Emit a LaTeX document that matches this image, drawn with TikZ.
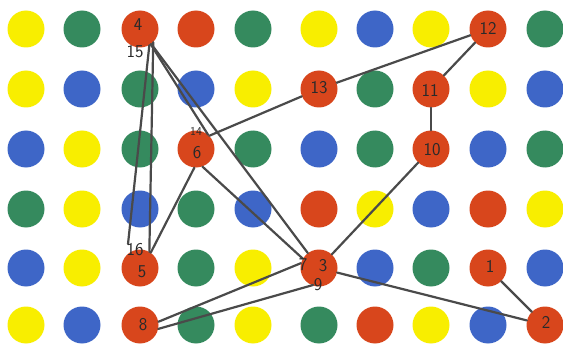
\documentclass[tikz,border=0pt]{standalone}
\usepackage{fontspec}
\begin{document}
\begin{tikzpicture}[x=1pt,y=-1pt,
  dot/.style={circle,minimum size=37pt,inner sep=0pt,draw=none},
  num/.style={font=\fontsize{18}{18}\selectfont\sffamily,text=numcol,inner sep=0.5pt},
  smallnum/.style={font=\fontsize{12}{12}\selectfont\sffamily,text=numcol,inner sep=0.5pt},
  link/.style={draw=linecol,line width=2.2pt,line cap=round}]
\definecolor{cR}{HTML}{D8461C}
\definecolor{cG}{HTML}{358A5E}
\definecolor{cB}{HTML}{3E66C7}
\definecolor{cY}{HTML}{F8EE00}
\definecolor{linecol}{HTML}{4A4A4A}
\definecolor{numcol}{HTML}{2A2A2A}
\fill[white] (0,0) rectangle (563,345);
\useasboundingbox (0,0) rectangle (563,345);
\foreach \r/\y/\cols in {1/29/{Y,G,R,R,G,Y,B,Y,R,G},
                         2/89/{Y,B,G,B,Y,R,G,R,Y,B},
                         3/149/{B,Y,G,R,G,B,G,R,B,G},
                         4/209/{G,Y,B,G,B,R,Y,B,R,Y},
                         5/268/{B,Y,R,G,Y,R,B,G,R,B},
                         6/325/{Y,B,R,G,Y,G,R,Y,B,R}}{
  \foreach \c [count=\i] in \cols {
    \pgfmathsetmacro{\xx}{{26,82,140,196,253,319,375,431,488,545}[\i-1]}
    \node[dot,fill=c\c] (d\r-\i) at (\xx,\y) {};
  }
}
% connectors
\coordinate (c16) at (128,244);
\draw[link] (d5-9) -- (d6-10);
\draw[link] (d6-10) -- (d5-6);
\draw[link] (d5-6) -- (d1-3);
\draw[link] (d1-3.-45) -- (d5-3.60);
\draw[link] (d5-3.55) -- (d3-4.-95);
\draw[link] (d3-4.-70) -- (d5-6.150);
\draw[link] (d5-6.165) -- (d6-3.10);
\node[num] (l9) at (318,285) {9};
\draw[link] (d6-3.-12) -- (l9.west);
\draw[link] (d5-6) -- (d3-8);
\draw[link] (d3-8) -- (d2-8);
\draw[link] (d2-8) -- (d1-9);
\draw[link] (d1-9) -- (d2-6);
\draw[link] (d2-6) -- (d3-4.45);
\draw[link] (d3-4.50) -- (d1-3.-55);
\draw[link] (d1-3.-60) -- (c16);
% numbers
\node[num] (l4) at (138,25) {4};
\node[num] (l15) at (135,52) {15};
\node[num] (l12) at (488,28) {12};
\node[num] (l13) at (319,88) {13};
\node[num] (l11) at (430,90) {11};
\node[num] (l10) at (432,150) {10};
\node[num] (l6) at (197,153) {6};
\node[smallnum] (l14) at (196,131) {14};
\node[num] (l16) at (135,250) {16};
\node[num] (l5) at (142,272) {5};
\node[num] (l8) at (143,325) {8};
\node[num] (l3) at (323,266) {3};
\node[num] (l7) at (303,265) {7};
\node[num] (l1) at (490,266) {1};
\node[num] (l2) at (546,322) {2};
\end{tikzpicture}
\end{document}
